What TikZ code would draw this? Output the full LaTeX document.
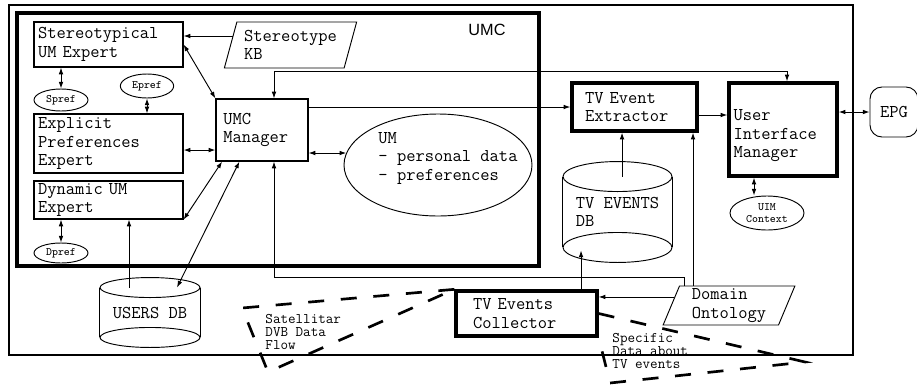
\documentclass[tikz,border=0pt]{standalone}
\usepackage{fontspec}
\setsansfont{Liberation Sans}
\usepackage{tikz}
\usetikzlibrary{arrows.meta, positioning, calc, shapes.geometric}

\newcommand{\policemachine}{\ttfamily\addfontfeatures{LetterSpace=8.6, WordSpace=1.16}}

\begin{document}
\begin{tikzpicture}[x=0.75pt, y=-0.75pt, line width=0.7pt,
  >={Latex[length=5pt, width=3.5pt]},
  every node/.style={font=\policemachine\fontsize{13.5}{13.9}\selectfont},
  bloc/.style={draw, line width=0.9pt, align=left, inner xsep=3pt, inner ysep=1pt},
  bloc epais/.style={bloc, line width=2.5pt},
  bulle/.style={draw, ellipse, inner sep=0pt, align=center,
    font=\policemachine\fontsize{8.5}{9}\selectfont},
  donnee/.style={draw, trapezium, trapezium left angle=70, trapezium right angle=110,
    trapezium stretches=true, inner sep=0pt, align=left},
  flux/.style={line width=2pt, dash pattern=on 12pt off 12.5pt},
  note/.style={anchor=west, inner sep=0pt, align=left,
    font=\policemachine\fontsize{11}{10.1}\selectfont}]
  \useasboundingbox (0,0) rectangle (917,386);

  % Cadres
  \draw[line width=1.2pt] (9,5) rectangle (853,355);
  \draw[line width=3pt] (17,13) rectangle (539,266);
  \node[font=\sffamily\fontsize{12.2}{14}\selectfont] (umc) at (487,30) {UMC};

  % Experts
  \node[bloc, text width=105.75pt, minimum height=33.75pt] (stereo) at (108.5,44.5) {Stereotypical\\UM Expert};
  \node[bloc, text width=105.75pt, minimum height=44.25pt] (explicit) at (108.5,143.5) {Explicit\\Preferences\\Expert};
  \node[bloc, text width=105.75pt, minimum height=28.5pt] (dynamic) at (108.5,200) {Dynamic UM\\Expert};
  \node[bulle, minimum width=40.5pt, minimum height=16.5pt] (spref) at (61,100) {Spref};
  \node[bulle, minimum width=40pt, minimum height=18pt] (epref) at (147,86) {Epref};
  \node[bulle, minimum width=40.5pt, minimum height=15pt] (dpref) at (61,253) {Dpref};

  % Base de stereotypes
  \node[donnee, minimum width=99.75pt, minimum height=34.5pt] (kb) at (290.5,45) {Stereotype\\KB};

  % Gestionnaire UMC
  \node[bloc, text width=58pt, inner xsep=5.5pt, minimum height=46.5pt] (manager) at (262,130) {UMC\\Manager};

  % Modele utilisateur
  \node[draw, ellipse, minimum width=141pt, minimum height=76.5pt] (um) at (438,165) {};
  \node[align=left] (umtexte) at ([xshift=7.5pt, yshift=5pt]um.center) {UM\\- personal data\\- preferences};

  % Chaine TV
  \node[bloc epais, text width=74.25pt, inner xsep=9.75pt, minimum height=36pt] (extractor) at (634.5,107) {TV Event\\Extractor};
  \node[bloc epais, text width=74.25pt, inner xsep=3.4pt, minimum height=69.75pt] (uim) at (783,129.5) {\rule{0pt}{18pt}User\\Interface\\Manager};
  \node[bulle, minimum width=55.5pt, minimum height=25.5pt] (uimctx) at (767,213) {UIM\\Context};
  \node[draw, rounded corners=9pt, minimum width=36pt, minimum height=37.5pt] (epg) at (894,112) {EPG};
  \node[bloc epais, text width=80.25pt, inner xsep=12.75pt, minimum height=33.75pt] (collector) at (526.5,313.5) {TV Events\\Collector};
  \node[donnee, minimum width=99pt, minimum height=29.25pt] (domain) at (729,305.5) {Domain\\Ontology};

  % Base USERS DB
  \node[minimum width=75pt, minimum height=51.75pt] (usersdb) at (150,312.5) {USERS DB};
  \draw ([yshift=-7.5pt]usersdb.north west) -- ([yshift=7.5pt]usersdb.south west)
        ([yshift=-7.5pt]usersdb.north east) -- ([yshift=7.5pt]usersdb.south east);
  \draw ([yshift=-7.5pt]usersdb.north) ellipse [x radius=50, y radius=10]
        ([yshift=7.5pt]usersdb.south) ellipse [x radius=50, y radius=10];

  % Base TV EVENTS DB
  \node[align=left, minimum width=81.75pt, minimum height=75pt] (tvdb) at (617.5,212) {TV EVENTS\\DB};
  \draw ([yshift=-11.25pt]tvdb.north west) -- ([yshift=11.25pt]tvdb.south west)
        ([yshift=-11.25pt]tvdb.north east) -- ([yshift=11.25pt]tvdb.south east);
  \draw ([yshift=-11.25pt]tvdb.north) ellipse [x radius=54.5, y radius=15]
        ([yshift=11.25pt]tvdb.south) ellipse [x radius=54.5, y radius=15];

  % Liaisons cote UMC
  \draw[->] ([xshift=2.25pt, yshift=6.75pt]kb.west) -- ([yshift=6.75pt]kb.west -| stereo.east);
  \draw[<->] (stereo.east) -- (manager.north west);
  \draw[<->] ([yshift=-4.9pt]explicit.east) -- ([yshift=-4.9pt]explicit.east -| manager.west);
  \draw[<->] (dynamic.south east) -- ([xshift=5pt]manager.south west);
  \draw[<->] (spref) -- (spref |- stereo.south);
  \draw[<->] (epref) -- (epref |- explicit.north);
  \draw[<->] (dpref) -- (dpref |- dynamic.south);
  \draw[<->] ([xshift=20.25pt, yshift=-7.5pt]usersdb.north) -- ([xshift=18pt]manager.south west);
  \draw[->] ([xshift=-15.75pt, yshift=-7.5pt]usersdb.north) -- ([xshift=-15.75pt]usersdb.north |- dynamic.south);
  \draw[<->] ([yshift=-17.25pt]manager.east) -- ([xshift=2pt, yshift=-17.25pt]manager.east -| um.west);

  % Liaisons cote TV
  \draw[<->] ([xshift=9pt]manager.north) -- ++(0,-27) -| ([xshift=3pt]uim.north);
  \draw[->] (manager.east |- extractor.west) -- (extractor.west);
  \draw[->] ([yshift=-6pt]extractor.east) -- ([yshift=-6pt]extractor.east -| uim.west);
  \draw[<->] (uim.east |- epg.west) -- (epg.west);
  \draw[<->] ([xshift=-21.75pt]uim.south) -- ([xshift=-21.75pt]uim.south |- uimctx.north);
  \draw[->] ([xshift=3.4pt, yshift=-11.25pt]tvdb.north) -- ([xshift=3.4pt]tvdb.north |- extractor.south);
  \draw[->] ([xshift=40.9pt]collector.north) -- ([xshift=40.9pt, yshift=9pt]collector.north |- tvdb.south);
  \draw[->] ([xshift=2.5pt, yshift=6.4pt]domain.west) -- ([yshift=6.4pt]domain.west -| collector.east);
  \draw[->] ([xshift=-27pt]domain.north) -- ([xshift=-27pt]domain.north |- extractor.south);
  \draw[->] ([xshift=-33.75pt]domain.north) -- ++(0,-8) -| ([xshift=9pt]manager.south);

  % Flux de donnees
  \draw[flux] (collector.north west) -- (242,308) -- (268,372) -- cycle;
  \draw[flux] (collector.east) -- (805,362) -- (610,383) -- (collector.south east);
  \node[note] (satellite) at (265,332) {Satellitar\\DVB Data\\Flow};
  \node[note] (specific) at (612,351) {Specific\\Data about\\TV events};
\end{tikzpicture}
\end{document}
